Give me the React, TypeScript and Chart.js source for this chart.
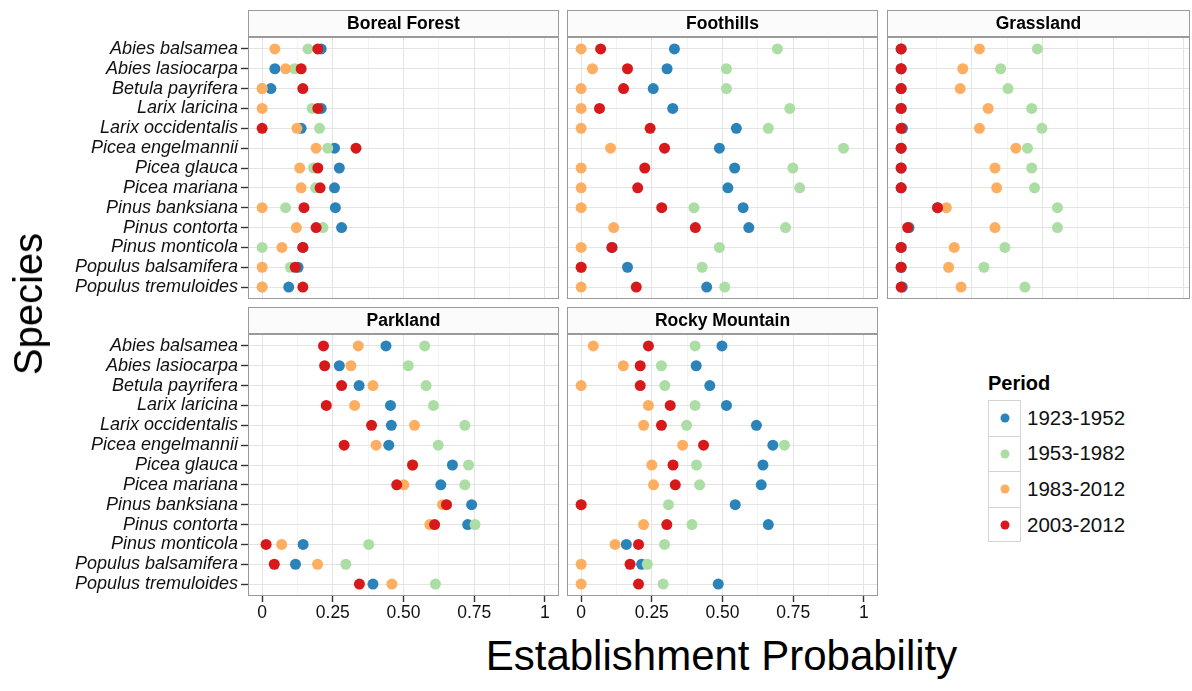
import React, { useEffect, useRef } from "react";
import { Chart, registerables } from "chart.js";

Chart.register(...registerables);

// ---------------- data ----------------
const SPECIES = [
  "Abies balsamea",
  "Abies lasiocarpa",
  "Betula payrifera",
  "Larix laricina",
  "Larix occidentalis",
  "Picea engelmannii",
  "Picea glauca",
  "Picea mariana",
  "Pinus banksiana",
  "Pinus contorta",
  "Pinus monticola",
  "Populus balsamifera",
  "Populus tremuloides",
];

const PERIODS = ["1923-1952", "1953-1982", "1983-2012", "2003-2012"];
const PERIOD_COLORS = ["#2B83BA", "#ABDDA4", "#FDAE61", "#D7191C"];

const X_TICKS = [0, 0.125, 0.25, 0.375, 0.5, 0.625, 0.75, 0.875, 1];
const X_MAJOR = [0, 0.25, 0.5, 0.75, 1];
const X_LABELS = ["0", "0.25", "0.50", "0.75", "1"];

// Boreal Forest
const boreal1923 = [0.209, 0.045, 0.031, 0.209, 0.138, 0.256, 0.273, 0.256, 0.259, 0.281, 0.144, 0.127, 0.094];
const boreal1953 = [0.162, 0.115, 0.0, 0.177, 0.203, 0.232, 0.182, 0.189, 0.083, 0.215, 0.0, 0.1, 0.0];
const boreal1983 = [0.045, 0.083, 0.0, 0.0, 0.123, 0.191, 0.133, 0.138, 0.0, 0.121, 0.07, 0.0, 0.0];
const boreal2003 = [0.197, 0.138, 0.144, 0.197, 0.0, 0.332, 0.197, 0.205, 0.148, 0.191, 0.144, 0.117, 0.144];

// Foothills
const foot1923 = [0.33, 0.304, 0.255, 0.324, 0.549, 0.489, 0.543, 0.519, 0.573, 0.593, 0.109, 0.164, 0.444];
const foot1953 = [0.694, 0.514, 0.514, 0.738, 0.662, 0.928, 0.749, 0.773, 0.399, 0.723, 0.489, 0.428, 0.508];
const foot1983 = [0.0, 0.04, 0.0, 0.0, 0.0, 0.104, 0.0, 0.0, 0.0, 0.115, 0.0, 0.0, 0.0];
const foot2003 = [0.069, 0.164, 0.15, 0.065, 0.244, 0.295, 0.225, 0.2, 0.285, 0.404, 0.109, 0.0, 0.195];

// Grassland
const grass1923 = [0.0, 0.0, 0.0, 0.0, 0.005, 0.0, 0.0, 0.0, 0.129, 0.028, 0.0, 0.0, 0.004];
const grass1953 = [0.482, 0.352, 0.378, 0.462, 0.498, 0.447, 0.462, 0.472, 0.553, 0.553, 0.367, 0.293, 0.438];
const grass1983 = [0.277, 0.218, 0.209, 0.308, 0.277, 0.406, 0.332, 0.338, 0.16, 0.332, 0.188, 0.168, 0.212];
const grass2003 = [0.0, 0.0, 0.0, 0.0, 0.0, 0.0, 0.0, 0.0, 0.129, 0.023, 0.0, 0.0, 0.0];

// Parkland
const park1923 = [0.438, 0.273, 0.343, 0.454, 0.457, 0.448, 0.673, 0.632, 0.741, 0.727, 0.145, 0.118, 0.392];
const park1953 = [0.575, 0.517, 0.58, 0.606, 0.717, 0.623, 0.73, 0.717, 0.652, 0.753, 0.377, 0.296, 0.613];
const park1983 = [0.34, 0.314, 0.392, 0.327, 0.539, 0.403, 0.532, 0.501, 0.638, 0.593, 0.069, 0.196, 0.459];
const park2003 = [0.217, 0.221, 0.281, 0.227, 0.387, 0.29, 0.532, 0.476, 0.652, 0.61, 0.014, 0.043, 0.344];

// Rocky Mountain
const rocky1923 = [0.498, 0.407, 0.455, 0.514, 0.62, 0.678, 0.643, 0.637, 0.545, 0.662, 0.16, 0.214, 0.485];
const rocky1953 = [0.403, 0.284, 0.296, 0.403, 0.373, 0.719, 0.408, 0.419, 0.309, 0.392, 0.295, 0.234, 0.29];
const rocky1983 = [0.043, 0.149, 0.0, 0.238, 0.221, 0.359, 0.25, 0.256, 0.0, 0.221, 0.12, 0.0, 0.0];
const rocky2003 = [0.238, 0.209, 0.209, 0.315, 0.284, 0.433, 0.325, 0.333, 0.0, 0.303, 0.203, 0.173, 0.203];

// ---------------- layout / style ----------------
const FONT = "'Liberation Sans', Arial, Helvetica, sans-serif";
const X_MIN = -0.05;
const X_MAX = 1.05;
const GRASS_X_MAX = 1.022;
const PLOT_W_FULL = 311;
const STRIP_H = 27;
const PLOT_H = 262;
const X_AXIS_H = 36;

const GRID_MAJOR = "#E4E4E4";
const GRID_MINOR = "#F4F4F4";
const BORDER = "#9A9A9A";
const TICK = "#333333";

const isMajor = (v: number) => Math.abs(v * 4 - Math.round(v * 4)) < 1e-9;

const stripPlugin = {
  id: "strip",
  beforeDraw(chart: any, _args: any, opts: any) {
    const { ctx, chartArea: a } = chart;
    ctx.save();
    ctx.fillStyle = "#FBFBFB";
    ctx.fillRect(a.left, 0, a.right - a.left, STRIP_H);
    ctx.strokeStyle = BORDER;
    ctx.lineWidth = 1;
    ctx.strokeRect(a.left + 0.5, 0.5, a.right - a.left - 1, STRIP_H - 1);
    ctx.fillStyle = "#000";
    ctx.font = `bold 17.5px ${FONT}`;
    ctx.textAlign = "center";
    ctx.textBaseline = "middle";
    ctx.fillText(opts.title, (a.left + a.right) / 2, STRIP_H / 2 + 1);
    ctx.restore();
  },
  afterDraw(chart: any) {
    const { ctx, chartArea: a } = chart;
    ctx.save();
    ctx.strokeStyle = BORDER;
    ctx.lineWidth = 1;
    ctx.strokeRect(a.left + 0.5, a.top + 0.5, a.right - a.left - 1, a.bottom - a.top - 1);
    ctx.restore();
  },
};

type PanelProps = {
  title: string;
  series: number[][];
  plotLeft: number;
  top: number;
  showY: boolean;
  showX: boolean;
  xMax: number;
};

function Panel({ title, series, plotLeft, top, showY, showX, xMax }: PanelProps) {
  const ref = useRef<HTMLCanvasElement>(null);
  const plotW = Math.round(((xMax - X_MIN) * PLOT_W_FULL) / (X_MAX - X_MIN));
  const canvasLeft = showY ? 0 : plotLeft;
  const yAxisW = plotLeft - canvasLeft;
  const canvasW = plotLeft + plotW + 1 - canvasLeft;
  const xAxisH = showX ? X_AXIS_H : 0;
  const padBottom = showX ? 0 : 1;
  const canvasH = STRIP_H + PLOT_H + xAxisH + padBottom;

  useEffect(() => {
    if (!ref.current) return;
    const datasets = series.map((vals, p) => ({
      label: PERIODS[p],
      data: vals.map((v, i) => ({ x: v, y: i })),
      backgroundColor: PERIOD_COLORS[p],
      borderWidth: 0,
      pointRadius: 5.5,
      pointHoverRadius: 5.5,
      order: series.length - 1 - p,
    }));
    const chart = new Chart(ref.current, {
      type: "scatter",
      data: { datasets },
      plugins: [stripPlugin as any],
      options: {
        animation: false,
        responsive: false,
        events: [],
        layout: {
          autoPadding: false,
          padding: { top: STRIP_H, left: 0, right: 1, bottom: padBottom },
        },
        plugins: {
          legend: { display: false },
          tooltip: { enabled: false },
          title: { display: false },
          strip: { title },
        } as any,
        scales: {
          x: {
            type: "linear",
            position: "bottom",
            min: X_MIN,
            max: xMax,
            border: { display: false },
            afterBuildTicks: (scale: any) => {
              scale.ticks = X_TICKS.filter((v) => v <= scale.max).map((v) => ({ value: v }));
            },
            afterFit: (scale: any) => {
              scale.height = xAxisH;
              scale.paddingLeft = 0;
              scale.paddingRight = 0;
            },
            grid: {
              color: (ctx: any) => (ctx.tick && isMajor(ctx.tick.value) ? GRID_MAJOR : GRID_MINOR),
              lineWidth: 1,
              drawTicks: showX,
              tickLength: 6,
              tickWidth: 1.4,
              tickColor: (ctx: any) => (ctx.tick && isMajor(ctx.tick.value) ? TICK : "rgba(0,0,0,0)"),
            },
            ticks: {
              display: showX,
              autoSkip: false,
              maxRotation: 0,
              minRotation: 0,
              padding: 1,
              color: "#111",
              font: { family: FONT, size: 17.5 },
              callback: (v: any) => {
                const i = X_MAJOR.findIndex((m) => Math.abs(m - Number(v)) < 1e-9);
                return i >= 0 ? X_LABELS[i] : "";
              },
            },
          },
          y: {
            type: "linear",
            position: "left",
            min: -0.6,
            max: SPECIES.length - 1 + 0.6,
            reverse: true,
            border: { display: false },
            afterBuildTicks: (scale: any) => {
              scale.ticks = SPECIES.map((_, i) => ({ value: i }));
            },
            afterFit: (scale: any) => {
              scale.width = yAxisW;
              scale.paddingTop = 0;
              scale.paddingBottom = 0;
            },
            grid: {
              color: GRID_MAJOR,
              lineWidth: 1,
              drawTicks: showY,
              tickLength: 7,
              tickWidth: 1.4,
              tickColor: TICK,
            },
            ticks: {
              display: showY,
              autoSkip: false,
              padding: 3,
              color: "#111",
              font: { family: FONT, size: 18, style: "italic" },
              callback: (v: any) => SPECIES[Math.round(Number(v))] ?? "",
            },
          },
        },
      },
    });
    return () => chart.destroy();
  }, []);

  return (
    <canvas
      ref={ref}
      width={canvasW}
      height={canvasH}
      style={{
        position: "absolute",
        left: canvasLeft,
        top,
        width: canvasW,
        height: canvasH,
      }}
    />
  );
}

function Legend() {
  const top0 = 400;
  const keyH = 35.6;
  return (
    <>
      <div
        style={{
          position: "absolute",
          left: 988,
          top: 371,
          fontFamily: FONT,
          fontWeight: "bold",
          fontSize: 20,
          lineHeight: "24px",
          color: "#000",
          whiteSpace: "nowrap",
        }}
      >
        Period
      </div>
      {PERIODS.map((p, i) => (
        <React.Fragment key={p}>
          <div
            style={{
              position: "absolute",
              left: 988,
              top: top0 + i * keyH,
              width: 33,
              height: keyH,
              boxSizing: "border-box",
              borderLeft: "1px solid #D4D4D4",
              borderRight: "1px solid #D4D4D4",
              borderTop: "1px solid #D4D4D4",
              borderBottom: i === PERIODS.length - 1 ? "1px solid #D4D4D4" : "none",
              background: "#fff",
            }}
          >
            <div
              style={{
                position: "absolute",
                left: "50%",
                top: "50%",
                width: 9,
                height: 9,
                borderRadius: "50%",
                background: PERIOD_COLORS[i],
                transform: "translate(-50%, -50%)",
              }}
            />
          </div>
          <div
            style={{
              position: "absolute",
              left: 1027,
              top: top0 + i * keyH + keyH / 2 - 12,
              fontFamily: FONT,
              fontSize: 20.5,
              lineHeight: "24px",
              color: "#111",
              whiteSpace: "nowrap",
            }}
          >
            {p}
          </div>
        </React.Fragment>
      ))}
    </>
  );
}

export default function App() {
  return (
    <div
      style={{
        position: "fixed",
        left: 0,
        top: 0,
        width: 1192,
        height: 691,
        background: "#fff",
        overflow: "hidden",
      }}
    >
      <Panel title="Boreal Forest" series={[boreal1923, boreal1953, boreal1983, boreal2003]} plotLeft={248} top={10} showY showX={false} xMax={X_MAX} />
      <Panel title="Foothills" series={[foot1923, foot1953, foot1983, foot2003]} plotLeft={567} top={10} showY={false} showX={false} xMax={X_MAX} />
      <Panel title="Grassland" series={[grass1923, grass1953, grass1983, grass2003]} plotLeft={887} top={10} showY={false} showX={false} xMax={GRASS_X_MAX} />
      <Panel title="Parkland" series={[park1923, park1953, park1983, park2003]} plotLeft={248} top={307} showY showX xMax={X_MAX} />
      <Panel title="Rocky Mountain" series={[rocky1923, rocky1953, rocky1983, rocky2003]} plotLeft={567} top={307} showY={false} showX xMax={X_MAX} />
      <Legend />
      <div
        style={{
          position: "absolute",
          left: 28,
          top: 304,
          transform: "translate(-50%, -50%) rotate(-90deg)",
          fontFamily: FONT,
          fontSize: 40,
          lineHeight: "40px",
          color: "#000",
          whiteSpace: "nowrap",
        }}
      >
        Species
      </div>
      <div
        style={{
          position: "absolute",
          left: 721.5,
          top: 634.5,
          transform: "translateX(-50%)",
          fontFamily: FONT,
          fontSize: 42,
          lineHeight: "42px",
          color: "#000",
          whiteSpace: "nowrap",
        }}
      >
        Establishment Probability
      </div>
    </div>
  );
}
